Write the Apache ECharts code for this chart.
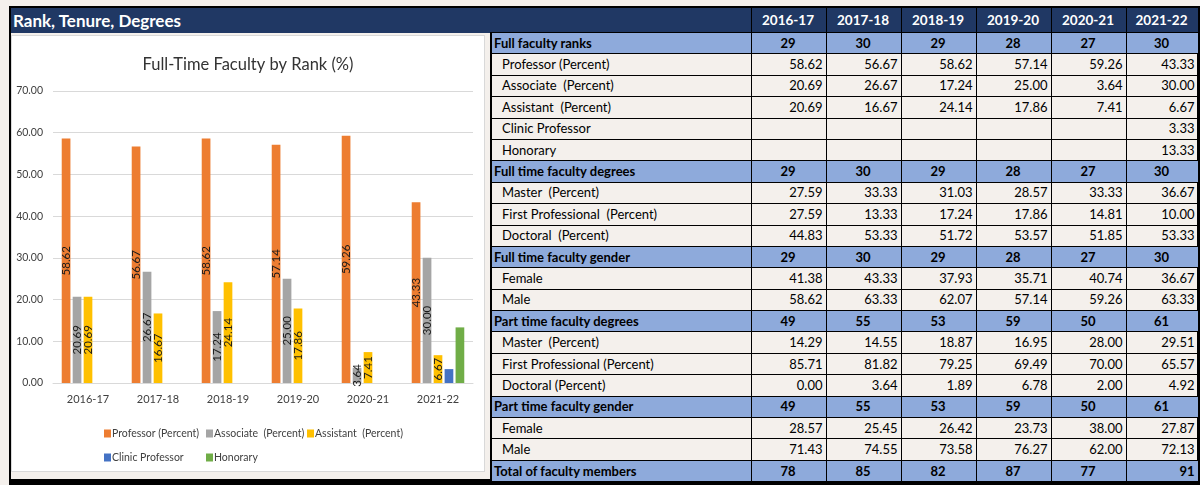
<!DOCTYPE html>
<html>
<head>
<meta charset="utf-8">
<script src="https://cdn.jsdelivr.net/npm/echarts@6/dist/echarts.min.js"></script>
<style>
    body {
        margin: 0;
        width: 1200px;
        height: 485px;
        background: #f4f0ec;
        overflow: hidden;
        position: relative;
        font-family: Lato, 'Noto Sans', sans-serif;
    }
    #frame {
        position: absolute;
        left: 9px;
        top: 6px;
        width: 1186px;
        height: 471px;
        border: solid #000;
        border-width: 2px 3px 6px 2px;
    }
    #banner {
        position: absolute;
        left: 11px;
        top: 8px;
        width: 1186px;
        height: 25px;
        background: #203864;
        color: #fff;
        font-weight: bold;
        font-size: 17px;
        line-height: 25px;
        padding-left: 2px;
        box-sizing: border-box;
    }
    #chart {
        position: absolute;
        left: 11px;
        top: 35px;
        width: 474px;
        height: 437px;
        background: #fff;
        outline: 1px solid #d9d9d9;
        outline-offset: -1px;
    }
    #facts {
        position: absolute;
        left: 490px;
        top: 8px;
        width: 707px;
        border-collapse: collapse;
        table-layout: fixed;
        font-size: 13px;
        color: #000;
    }
    #facts td {
        border: 1px solid #000;
        padding: 0 3px 0 2px;
        height: 20.4px;
        line-height: 19px;
        white-space: pre;
        overflow: hidden;
    }
    #facts tr.head td {
        background: #203864;
        color: #fff;
        font-weight: bold;
        font-size: 13.5px;
        text-align: center;
        height: 24px;
        border-top: none;
    }
    #facts tr.head td:first-child { border-left: none; }
    #facts td:first-child { border-left: 2px solid #000; }
    #facts tr.section td {
        background: #8eaadb;
        font-weight: bold;
        text-align: center;
    }
    #facts tr.section td:first-child { text-align: left; }
    #facts tr.item td { text-align: right; }
    #facts tr.item td:first-child { text-align: left; padding-left: 10px; }
</style>
</head>
<body>
<div id="frame"></div>
<div id="banner">Rank, Tenure, Degrees</div>
<div id="chart"></div>
<table id="facts">
    <colgroup>
        <col style="width:260px"><col style="width:75px"><col style="width:75px"><col style="width:75px">
        <col style="width:75px"><col style="width:75px"><col style="width:72px">
    </colgroup>
    <tbody></tbody>
</table>
<script>
const years = ['2016-17', '2017-18', '2018-19', '2019-20', '2020-21', '2021-22'];

// full time ranks
const ftRankCount = [29, 30, 29, 28, 27, 30];
const professorPct = [58.62, 56.67, 58.62, 57.14, 59.26, 43.33];
const associatePct = [20.69, 26.67, 17.24, 25.00, 3.64, 30.00];
const assistantPct = [20.69, 16.67, 24.14, 17.86, 7.41, 6.67];
const clinicPct = [null, null, null, null, null, 3.33];
const honoraryPct = [null, null, null, null, null, 13.33];

// full time degrees / gender
const ftDegreeCount = [29, 30, 29, 28, 27, 30];
const ftMasterPct = [27.59, 33.33, 31.03, 28.57, 33.33, 36.67];
const ftFirstProPct = [27.59, 13.33, 17.24, 17.86, 14.81, 10.00];
const ftDoctoralPct = [44.83, 53.33, 51.72, 53.57, 51.85, 53.33];
const ftGenderCount = [29, 30, 29, 28, 27, 30];
const ftFemalePct = [41.38, 43.33, 37.93, 35.71, 40.74, 36.67];
const ftMalePct = [58.62, 63.33, 62.07, 57.14, 59.26, 63.33];

// part time degrees / gender
const ptDegreeCount = [49, 55, 53, 59, 50, 61];
const ptMasterPct = [14.29, 14.55, 18.87, 16.95, 28.00, 29.51];
const ptFirstProPct = [85.71, 81.82, 79.25, 69.49, 70.00, 65.57];
const ptDoctoralPct = [0.00, 3.64, 1.89, 6.78, 2.00, 4.92];
const ptGenderCount = [49, 55, 53, 59, 50, 61];
const ptFemalePct = [28.57, 25.45, 26.42, 23.73, 38.00, 27.87];
const ptMalePct = [71.43, 74.55, 73.58, 76.27, 62.00, 72.13];

const totalFaculty = [78, 85, 82, 87, 77, 91];

const yTicks = [0, 10, 20, 30, 40, 50, 60, 70];

const rankNames = ['Professor (Percent)', 'Associate  (Percent)', 'Assistant  (Percent)', 'Clinic Professor', 'Honorary'];
const rankValues = [professorPct, associatePct, assistantPct, clinicPct, honoraryPct];
const rankColors = ['#ed7d31', '#a5a5a5', '#ffc000', '#4472c4', '#70ad47'];
const showLabel = [true, true, true, false, false];
// legend slots, Excel puts them in columns
const legendPos = [[88, 388], [190, 388], [291, 388], [88, 412], [190, 412]];

// ---- table ----
const tableRows = [
    ['section', 'Full faculty ranks', ftRankCount],
    ['item', 'Professor (Percent)', professorPct],
    ['item', 'Associate  (Percent)', associatePct],
    ['item', 'Assistant  (Percent)', assistantPct],
    ['item', 'Clinic Professor', clinicPct],
    ['item', 'Honorary', honoraryPct],
    ['section', 'Full time faculty degrees', ftDegreeCount],
    ['item', 'Master  (Percent)', ftMasterPct],
    ['item', 'First Professional  (Percent)', ftFirstProPct],
    ['item', 'Doctoral  (Percent)', ftDoctoralPct],
    ['section', 'Full time faculty gender', ftGenderCount],
    ['item', 'Female', ftFemalePct],
    ['item', 'Male', ftMalePct],
    ['section', 'Part time faculty degrees', ptDegreeCount],
    ['item', 'Master  (Percent)', ptMasterPct],
    ['item', 'First Professional (Percent)', ptFirstProPct],
    ['item', 'Doctoral (Percent)', ptDoctoralPct],
    ['section', 'Part time faculty gender', ptGenderCount],
    ['item', 'Female', ptFemalePct],
    ['item', 'Male', ptMalePct],
    ['section', 'Total of faculty members', totalFaculty]
];

const tbody = document.querySelector('#facts tbody');
let html = '<tr class="head"><td></td>' + years.map(y => '<td>' + y + '</td>').join('') + '</tr>';
tableRows.forEach((row, r) => {
    const [kind, label, vals] = row;
    html += '<tr class="' + kind + '"><td>' + label + '</td>';
    vals.forEach((v, i) => {
        let txt = '';
        if (v !== null) {
            txt = kind === 'item' ? v.toFixed(2) : String(v);
        }
        // last total cell is right aligned in the source sheet
        const odd = (r === tableRows.length - 1 && i === vals.length - 1) ? ' style="text-align:right"' : '';
        html += '<td' + odd + '>' + txt + '</td>';
    });
    html += '</tr>';
});
tbody.innerHTML = html;

// ---- chart ----
const chart = echarts.init(document.getElementById('chart'));

chart.setOption({
    animation: false,
    textStyle: { fontFamily: 'Lato' },
    title: {
        text: 'Full-Time Faculty by Rank (%)',
        left: 'center',
        top: 16,
        textStyle: { fontSize: 16.5, fontWeight: 'normal', color: '#333' }
    },
    legend: rankNames.map((name, i) => ({
        data: [name],
        left: legendPos[i][0],
        top: legendPos[i][1],
        itemWidth: 7,
        itemHeight: 8,
        icon: 'rect',
        textStyle: { fontSize: 10.5, color: '#404040', padding: [0, 0, 0, -4] },
        selectedMode: false
    })),
    grid: {
        left: 42,
        top: 56,
        width: 420,
        height: 292,
        outerBoundsMode: 'none',
        containLabel: false
    },
    xAxis: {
        type: 'category',
        data: years,
        axisLine: { lineStyle: { color: '#d9d9d9' } },
        axisTick: { show: false },
        axisLabel: { color: '#404040', fontSize: 11, margin: 11 }
    },
    yAxis: {
        type: 'value',
        min: yTicks[0],
        max: yTicks[yTicks.length - 1],
        interval: 10,
        axisLine: { show: false },
        axisTick: { show: false },
        axisLabel: {
            color: '#404040',
            fontSize: 10.5,
            margin: 10,
            formatter: v => v.toFixed(2)
        },
        splitLine: { lineStyle: { color: '#d9d9d9' } }
    },
    series: rankNames.map((name, i) => ({
        name: name,
        type: 'bar',
        data: rankValues[i],
        barWidth: 8.7,
        barGap: '26%',
        itemStyle: { color: rankColors[i] },
        label: {
            show: showLabel[i],
            position: 'inside',
            rotate: 90,
            color: '#1a1a1a',
            fontSize: 11.5,
            formatter: p => p.value.toFixed(2)
        }
    }))
});
</script>
</body>
</html>
